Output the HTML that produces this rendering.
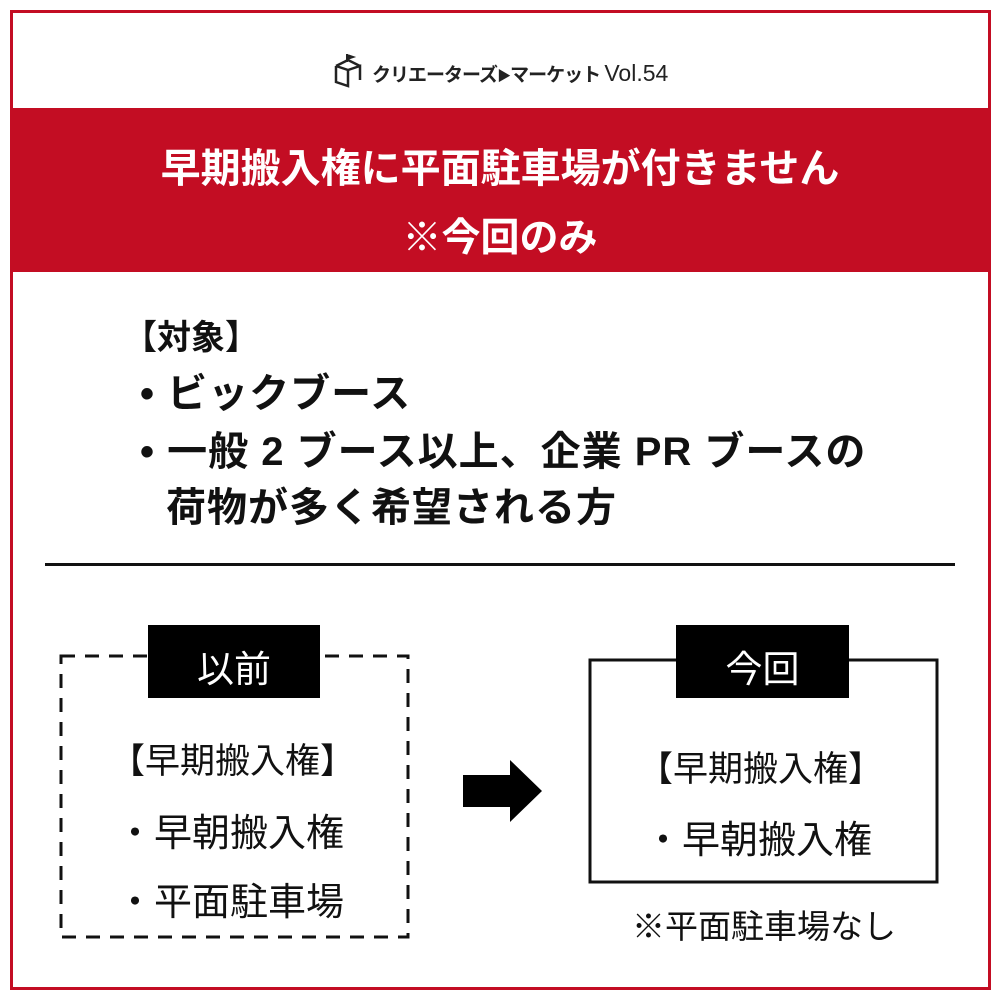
<!DOCTYPE html>
<html><head><meta charset="utf-8"><style>
body{margin:0;width:1000px;height:1000px;background:#fff;position:relative;overflow:hidden;font-family:"Liberation Sans","Noto Sans CJK JP",sans-serif;}
.a{position:absolute;white-space:nowrap;}
.b{font-weight:bold;font-size:40px;color:#111;letter-spacing:1px;}
.n{font-size:37px;color:#111;}
</style></head><body>
<div class="a" style="left:10px;top:10px;width:975px;height:974px;border:3px solid #c30d23;"></div>
<div class="a" style="left:12px;top:108px;width:976px;height:164px;background:#c30d23;"></div>
<div class="a" style="left:0;width:1000px;top:136px;text-align:center;color:#fff;font-weight:bold;font-size:40px;">早期搬入権に平面駐車場が付きません</div>
<div class="a" style="left:0;width:1000px;top:207px;text-align:center;color:#fff;font-weight:bold;font-size:39px;">※今回のみ</div>
<svg class="a" style="left:333px;top:54px" width="30" height="34" viewBox="0 0 30 34"><path d="M3 12 L15 6 L27 12 M3 12 V28 L15 32 V16 L3 12 M15 16 L27 12 V26" fill="none" stroke="#222" stroke-width="2.5"/><path d="M14 0 V8 M14 1 L20 3 L14 5" stroke="#222" fill="#222" stroke-width="2"/></svg>
<div class="a" style="left:372px;top:60px;font-size:19px;font-weight:bold;color:#222;letter-spacing:-1px;">クリエーターズ<span style="font-size:14px">▶</span>マーケット <span style="font-weight:normal;font-size:23px;letter-spacing:0">Vol.54</span></div>
<div class="a b" style="left:123px;top:310px;font-size:34px;letter-spacing:0">【対象】</div>
<div class="a b" style="left:140px;top:361px;">• ビックブース</div>
<div class="a b" style="left:140px;top:419px;">• 一般 2 ブース以上、企業 PR ブースの</div>
<div class="a b" style="left:166px;top:475px;">荷物が多く希望される方</div>
<div class="a" style="left:45px;top:563px;width:910px;height:3px;background:#111;"></div>
<svg class="a" style="left:0;top:0" width="1000" height="1000">
<rect x="61" y="656" width="347" height="281" fill="none" stroke="#111" stroke-width="3" stroke-dasharray="14,10"/>
<rect x="590" y="660" width="347" height="222" fill="none" stroke="#111" stroke-width="3"/>
<rect x="148" y="625" width="172" height="73" fill="#000"/>
<rect x="676" y="625" width="173" height="73" fill="#000"/>
<polygon points="463,775 510,775 510,760 542,791 510,822 510,807 463,807" fill="#000"/>
</svg>
<div class="a" style="left:148px;width:172px;top:639px;text-align:center;color:#fff;font-size:37px;">以前</div>
<div class="a" style="left:676px;width:173px;top:639px;text-align:center;color:#fff;font-size:37px;">今回</div>
<div class="a n" style="left:110px;top:733px;font-size:35px">【早期搬入権】</div>
<div class="a n" style="left:116px;top:802px;font-size:38px">・早朝搬入権</div>
<div class="a n" style="left:116px;top:871px;font-size:38px">・平面駐車場</div>
<div class="a n" style="left:638px;top:741px;font-size:35px">【早期搬入権】</div>
<div class="a n" style="left:644px;top:809px;font-size:38px">・早朝搬入権</div>
<div class="a" style="left:632px;top:900px;font-size:33px;color:#111;">※平面駐車場なし</div>
</body></html>
